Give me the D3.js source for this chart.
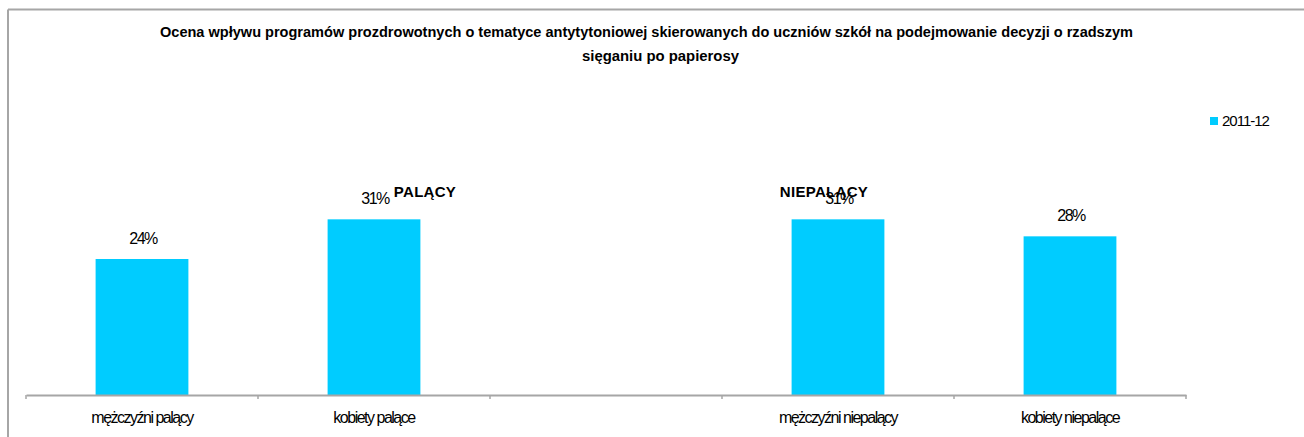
<!DOCTYPE html>
<html>
<head>
<meta charset="utf-8">
<script src="https://cdn.jsdelivr.net/npm/d3@7/dist/d3.min.js"></script>
<style>
  html, body { margin: 0; padding: 0; background: #fff; }
  svg { display: block; font-family: "Liberation Sans", Arial, sans-serif; }
</style>
</head>
<body>
<svg id="chart" width="1304" height="437"></svg>
<script>
// Categories along the x axis (the empty slot separates smokers from non-smokers)
const categories = ["mężczyźni palący", "kobiety palące", "", "mężczyźni niepalący", "kobiety niepalące"];
// Share of pupils (%), season 2011-12
const values2011 = [24, 31, null, 31, 28];
const seriesName = "2011-12";
const titleLines = [
  "Ocena wpływu programów prozdrowotnych o tematyce antytytoniowej skierowanych do uczniów szkół na podejmowanie decyzji o rzadszym",
  "sięganiu po papierosy"
];
const groupLabels = ["PALĄCY", "NIEPALĄCY"];
const groupAnchors = ["kobiety palące", "mężczyźni niepalący"];

const svg = d3.select("#chart");
const W = 1304, H = 437;
const barColor = "#00CCFF";
const gridGray = "#a6a6a6";

// Chart area frame (top and left edges visible)
svg.append("line").attr("x1", 8).attr("x2", W).attr("y1", 9.5).attr("y2", 9.5)
  .attr("stroke", gridGray).attr("stroke-width", 2);
svg.append("line").attr("x1", 8).attr("x2", 8).attr("y1", 9.5).attr("y2", H)
  .attr("stroke", gridGray).attr("stroke-width", 2);

const x = d3.scaleBand().domain(categories).range([26, 1186]).padding(0);
const y = d3.scaleLinear().domain([0, 60]).range([395, 55]);
const barW = x.bandwidth() * 0.4;

// Title (condensed bold, two lines)
const title = svg.append("g").attr("font-weight", "bold").attr("font-size", 14).attr("fill", "#000");
title.append("text").attr("x", 646.5).attr("y", 37).attr("text-anchor", "middle")
  .attr("textLength", 973).attr("lengthAdjust", "spacingAndGlyphs").text(titleLines[0]);
title.append("text").attr("x", 660.5).attr("y", 61).attr("text-anchor", "middle")
  .attr("textLength", 157).attr("lengthAdjust", "spacingAndGlyphs").text(titleLines[1]);

// Bars
const data = categories.map((c, i) => ({ c, v: values2011[i] })).filter(d => d.v != null);
svg.append("g").selectAll("rect").data(data).join("rect")
  .attr("x", d => x(d.c) + x.bandwidth() / 2 - barW / 2)
  .attr("y", d => y(d.v))
  .attr("width", barW)
  .attr("height", d => y(0) - y(d.v))
  .attr("fill", barColor);

// Value labels
svg.append("g").selectAll("text").data(data).join("text")
  .attr("x", d => x(d.c) + x.bandwidth() / 2 + 1)
  .attr("y", d => y(d.v) - 15)
  .attr("text-anchor", "middle")
  .attr("font-size", 16)
  .attr("letter-spacing", -1.5)
  .attr("fill", "#000")
  .text(d => d.v + "%");

// X axis
const axis = svg.append("g").attr("transform", `translate(0,${y(0)})`)
  .call(d3.axisBottom(x).tickSize(0).tickFormat(""));
axis.select(".domain").attr("stroke", gridGray).attr("stroke-width", 2);
axis.selectAll(".tick").remove();
const bounds = categories.map(c => x(c)).concat([x.range()[1]]);
axis.selectAll("line.tk").data(bounds).join("line").attr("class", "tk")
  .attr("x1", d => d).attr("x2", d => d).attr("y1", 0).attr("y2", 4)
  .attr("stroke", gridGray).attr("stroke-width", 1.5);
axis.selectAll("text.cat").data(categories.filter(c => c)).join("text").attr("class", "cat")
  .attr("x", d => x(d) + x.bandwidth() / 2)
  .attr("y", 28)
  .attr("text-anchor", "middle")
  .attr("font-size", 16)
  .attr("letter-spacing", -1.5)
  .attr("fill", "#000")
  .text(d => d);

// Group headings
const gOffsets = [51, -14];
svg.append("g").selectAll("text").data(groupLabels).join("text")
  .attr("x", (d, i) => x(groupAnchors[i]) + x.bandwidth() / 2 + gOffsets[i])
  .attr("y", 197)
  .attr("text-anchor", "middle")
  .attr("font-weight", "bold")
  .attr("font-size", 15)
  .attr("letter-spacing", 0.3)
  .attr("fill", "#000")
  .text(d => d);

// Legend
const lg = svg.append("g").attr("transform", "translate(1210,117)");
lg.append("rect").attr("width", 8).attr("height", 8).attr("fill", barColor);
lg.append("text").attr("x", 12).attr("y", 9).attr("font-size", 15)
  .attr("letter-spacing", -1).attr("fill", "#000").text(seriesName);
</script>
</body>
</html>
